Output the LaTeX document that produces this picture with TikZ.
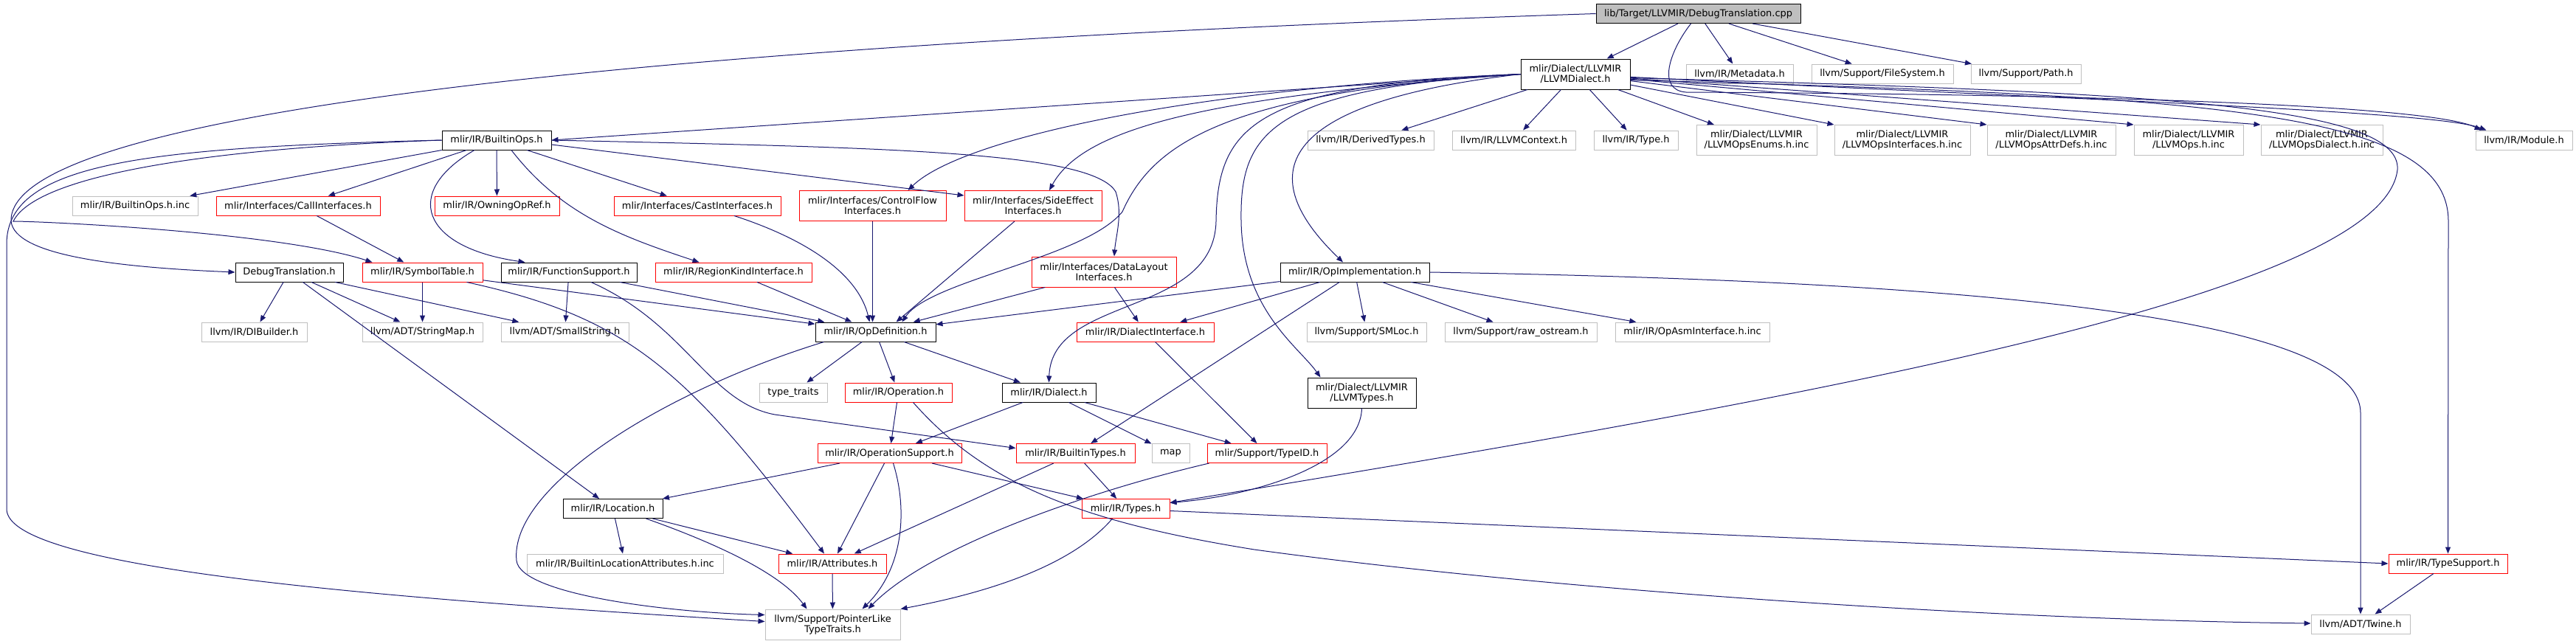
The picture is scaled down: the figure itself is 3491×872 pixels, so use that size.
\documentclass[tikz,border=0pt]{standalone}
\usepackage{fontspec}
\newfontfamily\graphfont{DejaVu Sans}
\usetikzlibrary{arrows.meta, calc}
\definecolor{edgeblue}{HTML}{191970}
\definecolor{undoc}{HTML}{BFBFBF}
\definecolor{trunc}{HTML}{FF0000}
\definecolor{rootfill}{HTML}{BFBFBF}

\begin{document}
\begin{tikzpicture}[
    x=0.75pt, y=-0.75pt,
    hdr/.style={draw=#1, fill=white, line width=0.75pt, inner sep=0pt, align=center,
        font=\graphfont\fontsize{9.7}{10.5}\selectfont, minimum height=26*0.75pt},
    wd/.style={minimum width=#1*0.75pt},
    tall/.style={minimum height=41*0.75pt},
    inc/.style={edgeblue, line width=0.75pt, -{Triangle[length=6.75pt, width=5.25pt]}},
]
\useasboundingbox[fill=white] (0,0) rectangle (3491,872);

\node[hdr=black, fill=rootfill, wd=277] (root) at (2301.5,18.5) {lib/Target/LLVMIR/DebugTranslation.cpp};
\node[hdr=black, tall, wd=148] (llvmd) at (2135,100.5) {mlir/Dialect/LLVMIR\\/LLVMDialect.h};
\node[hdr=undoc, wd=145] (metadata) at (2357.5,100) {llvm/IR/Metadata.h};
\node[hdr=undoc, wd=192] (filesystem) at (2551,100) {llvm/Support/FileSystem.h};
\node[hdr=undoc, wd=149] (llpath) at (2745.5,100) {llvm/Support/Path.h};

\node[hdr=black, wd=148] (bops) at (673,190) {mlir/IR/BuiltinOps.h};
\node[hdr=undoc, wd=171] (derived) at (1857.5,190) {llvm/IR/DerivedTypes.h};
\node[hdr=undoc, wd=167] (llvmctx) at (2051.5,190) {llvm/IR/LLVMContext.h};
\node[hdr=undoc, wd=114] (lltype) at (2217,190) {llvm/IR/Type.h};
\node[hdr=undoc, tall, wd=163] (opsenums) at (2380.5,190) {mlir/Dialect/LLVMIR\\/LLVMOpsEnums.h.inc};
\node[hdr=undoc, tall, wd=184] (opsif) at (2578,190) {mlir/Dialect/LLVMIR\\/LLVMOpsInterfaces.h.inc};
\node[hdr=undoc, tall, wd=174] (opsattr) at (2780,190) {mlir/Dialect/LLVMIR\\/LLVMOpsAttrDefs.h.inc};
\node[hdr=undoc, tall, wd=148] (opsinc) at (2966,190) {mlir/Dialect/LLVMIR\\/LLVMOps.h.inc};
\node[hdr=undoc, tall, wd=165] (opsdial) at (3146.5,190) {mlir/Dialect/LLVMIR\\/LLVMOpsDialect.h.inc};
\node[hdr=undoc, wd=131] (module) at (3420.5,190) {llvm/IR/Module.h};

\node[hdr=undoc, wd=170] (bopsinc) at (183,279) {mlir/IR/BuiltinOps.h.inc};
\node[hdr=trunc, wd=222] (callif) at (404,279) {mlir/Interfaces/CallInterfaces.h};
\node[hdr=trunc, wd=169] (owning) at (673.5,279) {mlir/IR/OwningOpRef.h};
\node[hdr=trunc, wd=226] (castif) at (945,279) {mlir/Interfaces/CastInterfaces.h};
\node[hdr=trunc, tall, wd=199] (cflow) at (1182.5,279) {mlir/Interfaces/ControlFlow\\Interfaces.h};
\node[hdr=trunc, tall, wd=186] (sideeff) at (1400,279) {mlir/Interfaces/SideEffect\\Interfaces.h};

\node[hdr=black, wd=146] (dbgh) at (392,369) {DebugTranslation.h};
\node[hdr=trunc, wd=163] (symtab) at (572.5,369) {mlir/IR/SymbolTable.h};
\node[hdr=black, wd=184] (fsup) at (771,369) {mlir/IR/FunctionSupport.h};
\node[hdr=trunc, wd=212] (regkind) at (994,369) {mlir/IR/RegionKindInterface.h};
\node[hdr=trunc, tall, wd=196] (dlayout) at (1496,368.5) {mlir/Interfaces/DataLayout\\Interfaces.h};
\node[hdr=black, wd=202] (opimpl) at (1836,369) {mlir/IR/OpImplementation.h};

\node[hdr=undoc, wd=143] (dibuilder) at (344.5,450) {llvm/IR/DIBuilder.h};
\node[hdr=undoc, wd=163] (stringmap) at (572.5,450) {llvm/ADT/StringMap.h};
\node[hdr=undoc, wd=173] (smallstr) at (765.5,450) {llvm/ADT/SmallString.h};
\node[hdr=black, wd=163] (opdef) at (1186.5,450) {mlir/IR/OpDefinition.h};
\node[hdr=trunc, wd=186] (dialif) at (1552,450) {mlir/IR/DialectInterface.h};
\node[hdr=undoc, wd=162] (smloc) at (1852,450) {llvm/Support/SMLoc.h};
\node[hdr=undoc, wd=206] (rawos) at (2061,450) {llvm/Support/raw\_ostream.h};
\node[hdr=undoc, wd=209] (opasm) at (2293.5,450) {mlir/IR/OpAsmInterface.h.inc};

\node[hdr=undoc, wd=92] (ttraits) at (1075,532) {type\_traits};
\node[hdr=trunc, wd=145] (operation) at (1217.5,532) {mlir/IR/Operation.h};
\node[hdr=black, wd=127] (dialect) at (1421.5,532) {mlir/IR/Dialect.h};
\node[hdr=black, tall, wd=147] (llvmtypes) at (1845.5,532.5) {mlir/Dialect/LLVMIR\\/LLVMTypes.h};

\node[hdr=trunc, wd=195] (opsup) at (1205.5,614.5) {mlir/IR/OperationSupport.h};
\node[hdr=trunc, wd=161] (bintypes) at (1457.5,614.5) {mlir/IR/BuiltinTypes.h};
\node[hdr=undoc, wd=51] (map) at (1586.5,614.5) {map};
\node[hdr=trunc, wd=162] (typeid) at (1717,614.5) {mlir/Support/TypeID.h};

\node[hdr=black, wd=135] (location) at (830.5,689.5) {mlir/IR/Location.h};
\node[hdr=trunc, wd=119] (types) at (1525.5,689.5) {mlir/IR/Types.h};

\node[hdr=undoc, wd=266] (blocattr) at (847,764) {mlir/IR/BuiltinLocationAttributes.h.inc};
\node[hdr=trunc, wd=146] (attrs) at (1128,764) {mlir/IR/Attributes.h};
\node[hdr=trunc, wd=161] (typesup) at (3317.5,764) {mlir/IR/TypeSupport.h};

\node[hdr=undoc, tall, wd=183] (ptrlike) at (1128.5,846.5) {llvm/Support/PointerLike\\TypeTraits.h};
\node[hdr=undoc, wd=134] (twine) at (3199,846) {llvm/ADT/Twine.h};

\draw[inc] (root) -- (llvmd);
\draw[inc] (root) -- (metadata);
\draw[inc] (root) -- (filesystem);
\draw[inc] (root) -- (llpath);
\draw[inc] (root.west) .. controls (900,60) and (10,150) .. (15,300) .. controls (20,345) and (150,362) .. (dbgh.west);
\draw[inc] ($(root.south)+(-10,0)$) .. controls (2262,70) and (2245,122) .. (2285,125) .. controls (2900,128) and (3300,145) .. ($(module.north west)+(8,0)$);

\draw[inc] (llvmd.west) -- (bops.east);
\draw[inc] (llvmd) -- (derived);
\draw[inc] (llvmd) -- (llvmctx);
\draw[inc] (llvmd) -- (lltype);
\draw[inc] (llvmd) -- (opsenums);
\draw[inc] (llvmd) -- (opsif.north west);
\draw[inc] (llvmd) -- (opsattr.north west);
\draw[inc] (llvmd) -- (opsinc.north west);
\draw[inc] (llvmd) -- (opsdial.north west);
\draw[inc] (llvmd) .. controls (2800,135) and (3300,150) .. ($(module.north west)+(15,0)$);
\draw[inc] ($(llvmd.east)+(0,5)$) .. controls (2900,125) and (3255,140) .. (3249,230) .. controls (3230,400) and (2450,540) .. ($(types.east)+(0,-8)$);
\draw[inc] ($(llvmd.east)+(0,8)$) .. controls (3000,130) and (3318,150) .. (3318,300) -- (typesup.north);
\draw[inc] (llvmd.west) .. controls (1600,120) and (1300,190) .. ($(cflow.north)+(48,0)$);
\draw[inc] (llvmd.west) .. controls (1650,130) and (1470,170) .. ($(sideeff.north)+(22,0)$);
\draw[inc] (llvmd.west) .. controls (1650,125) and (1560,200) .. (1521,287) .. controls (1470,350) and (1260,380) .. ($(opdef.north)+(36,0)$);
\draw[inc] (llvmd.west) .. controls (1700,115) and (1650,170) .. (1648,300) .. controls (1645,430) and (1425,400) .. (dialect.north);
\draw[inc] (llvmd.west) .. controls (1720,120) and (1680,180) .. (1682,300) .. controls (1684,420) and (1760,470) .. ($(llvmtypes.north)+(-56,0)$);
\draw[inc] (llvmd.west) .. controls (1720,140) and (1700,240) .. ($(opimpl.north)+(-16,0)$);

\draw[inc] (bops) -- (bopsinc);
\draw[inc] (bops) -- (callif);
\draw[inc] (bops) -- (owning);
\draw[inc] (bops) -- (castif);
\draw[inc] (bops.west) .. controls (300,200) and (50,235) .. (18,300) .. controls (60,300) and (380,315) .. ($(symtab.north west)+(14,0)$);
\draw[inc] (bops.west) .. controls (200,200) and (10,220) .. (9,330) -- (9,690) .. controls (9,770) and (500,810) .. ($(ptrlike.west)+(0,-4)$);
\draw[inc] ($(bops.south)+(-30,0)$) .. controls (545,260) and (570,335) .. ($(fsup.north west)+(33,0)$);
\draw[inc] ($(bops.south)+(20,0)$) .. controls (760,290) and (840,320) .. ($(regkind.north west)+(60,0)$);
\draw[inc] (bops.east) .. controls (1200,200) and (1480,205) .. (1512,260) .. controls (1522,290) and (1512,320) .. ($(dlayout.north)+(14,0)$);
\draw[inc] ($(bops.east)+(0,6)$) -- ($(sideeff.west)+(0,-14)$);

\draw[inc] (callif) -- (symtab);
\draw[inc] ($(castif.south)+(50,0)$) .. controls (1110,330) and (1165,380) .. ($(opdef.north)+(-8,0)$);
\draw[inc] (cflow.south) -- (cflow.south |- opdef.north);
\draw[inc] ($(sideeff.south)+(-25,0)$) -- ($(opdef.north)+(28,0)$);
\draw[inc] (dlayout) -- (opdef);
\draw[inc] (dlayout) -- (dialif);

\draw[inc] (dbgh) -- (dibuilder);
\draw[inc] (dbgh) -- (stringmap);
\draw[inc] (dbgh) -- (smallstr);
\draw[inc] (dbgh) -- (location);
\draw[inc] (symtab) -- (stringmap);
\draw[inc] (symtab) -- (opdef);
\draw[inc] ($(symtab.south)+(60,0)$) .. controls (850,430) and (930,500) .. ($(attrs.north)+(-11,0)$);
\draw[inc] (fsup) -- (smallstr);
\draw[inc] (fsup) -- (opdef);
\draw[inc] ($(fsup.south)+(30,0)$) .. controls (930,440) and (960,545) .. (1050,562) -- ($(bintypes.west)+(0,-7)$);
\draw[inc] (regkind) -- (opdef);

\draw[inc] (opimpl) -- (opdef);
\draw[inc] (opimpl) -- (dialif);
\draw[inc] (opimpl) -- (bintypes);
\draw[inc] (opimpl) -- (smloc);
\draw[inc] (opimpl) -- (rawos);
\draw[inc] (opimpl) -- (opasm);
\draw[inc] (opimpl.east) .. controls (2600,380) and (3199,420) .. (3199,560) -- (twine.north);

\draw[inc] (opdef) -- (ttraits);
\draw[inc] (opdef) -- (operation);
\draw[inc] (opdef) -- (dialect);
\draw[inc] ($(opdef.south west)+(12,0)$) .. controls (900,530) and (690,660) .. (700,760) .. controls (705,805) and (900,830) .. ($(ptrlike.west)+(0,-13)$);
\draw[inc] (dialif) -- (typeid);

\draw[inc] (operation) -- (opsup);
\draw[inc] ($(operation.south)+(20,0)$) .. controls (1330,650) and (1450,705) .. (1700,745) .. controls (2100,800) and (2700,840) .. ($(twine.west)+(0,-1)$);
\draw[inc] (dialect) -- (opsup);
\draw[inc] (dialect) -- (map);
\draw[inc] (dialect) -- (typeid);
\draw[inc] (llvmtypes.south) .. controls (1843,630) and (1700,672) .. ($(types.east)+(0,-8)$);

\draw[inc] (opsup) -- (location);
\draw[inc] (opsup) -- (attrs);
\draw[inc] (opsup) -- (types);
\draw[inc] ($(opsup.south)+(5,0)$) .. controls (1230,690) and (1225,770) .. ($(ptrlike.north)+(40,0)$);
\draw[inc] (bintypes) -- (types);
\draw[inc] (bintypes) -- (attrs);
\draw[inc] ($(typeid.south west)+(3,0)$) .. controls (1480,665) and (1260,740) .. ($(ptrlike.north)+(48,0)$);

\draw[inc] (location) -- (blocattr);
\draw[inc] (location) -- (attrs);
\draw[inc] ($(location.south)+(45,0)$) .. controls (980,740) and (1060,780) .. ($(ptrlike.north)+(-35,0)$);
\draw[inc] ($(types.south)+(-18,0)$) .. controls (1450,770) and (1330,805) .. (ptrlike.north east);
\draw[inc] ($(types.east)+(0,3)$) -- (typesup.west);
\draw[inc] (attrs) -- (ptrlike);
\draw[inc] (typesup) -- (twine);
\end{tikzpicture}
\end{document}
